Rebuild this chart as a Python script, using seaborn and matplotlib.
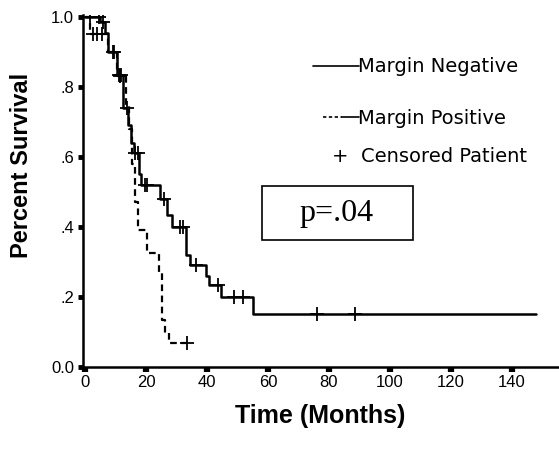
import numpy as np
import pandas as pd
import matplotlib
matplotlib.use("Agg")
import matplotlib.pyplot as plt
from matplotlib.lines import Line2D
from matplotlib.patches import Rectangle
import seaborn as sns

# Kaplan-Meier step points (months, survival fraction)
neg_times = [0, 5, 6.5, 7.5, 10.5, 12.3, 14, 15, 16, 17.8, 18.3, 24.5, 27, 28.5,
             33, 34.5, 39.5, 40.5, 44.5, 55, 148]
neg_surv = [1.0, 0.985, 0.955, 0.90, 0.835, 0.74, 0.69, 0.64, 0.61, 0.55, 0.52,
            0.48, 0.435, 0.40, 0.32, 0.29, 0.26, 0.235, 0.20, 0.15, 0.15]
neg_censored = [1.5, 4.5, 6, 9, 9.6, 11, 11.8, 13.6, 16.4, 17.2, 19.5, 20.3, 26,
                31, 32, 36.4, 43.6, 49, 51.8, 76, 88.5]

pos_times = [0, 1.5, 7.5, 10.5, 13.5, 14.5, 15.4, 16.5, 17.4, 20.3, 24.2, 25.3,
             26.3, 27.5, 33.5]
pos_surv = [1.0, 0.95, 0.90, 0.83, 0.75, 0.68, 0.58, 0.47, 0.39, 0.325, 0.27,
            0.134, 0.097, 0.068, 0.068]
pos_censored = [2.5, 4, 5.5, 11.5, 33.5]

x_ticks = [0, 20, 40, 60, 80, 100, 120, 140]
y_ticks = [0.0, 0.2, 0.4, 0.6, 0.8, 1.0]
y_tick_labels = ["0.0", ".2", ".4", ".6", ".8", "1.0"]

sns.set_theme(style="white")
plt.rcParams["font.family"] = ["Liberation Sans", "DejaVu Sans"]
plt.rcParams.update({"text.color": "black", "axes.labelcolor": "black",
                     "xtick.color": "black", "ytick.color": "black"})

W, H = 559, 455
fig = plt.figure(figsize=(W / 100, H / 100), dpi=100)
ax = fig.add_axes([83 / W, 1 - 367 / H, 1 - 83 / W, (367 - 15) / H])


def step_value(times, surv, t):
    idx = np.searchsorted(times, t, side="right") - 1
    return surv[idx]


curves = pd.concat([
    pd.DataFrame({"t": neg_times, "s": neg_surv, "group": "neg"}),
    pd.DataFrame({"t": pos_times, "s": pos_surv, "group": "pos"}),
])
sns.lineplot(data=curves[curves.group == "neg"], x="t", y="s", ax=ax,
             estimator=None, sort=False, drawstyle="steps-post",
             color="black", lw=1.8)
sns.lineplot(data=curves[curves.group == "pos"], x="t", y="s", ax=ax,
             estimator=None, sort=False, drawstyle="steps-post",
             color="black", lw=1.6, linestyle=(0, (3, 2)))

cens = pd.DataFrame({
    "t": neg_censored + pos_censored,
    "s": [step_value(neg_times, neg_surv, t) for t in neg_censored]
       + [step_value(pos_times, pos_surv, t) for t in pos_censored],
})
sns.scatterplot(data=cens, x="t", y="s", ax=ax, marker="+", s=90,
                color="black", linewidth=1.3, zorder=5)

ax.set_xlim(-0.7, 155.5)
ax.set_ylim(0, 1.005)
ax.set_xticks(x_ticks)
ax.set_xticklabels([str(v) for v in x_ticks])
ax.set_yticks(y_ticks)
ax.set_yticklabels(y_tick_labels)
ax.tick_params(axis="x", length=3.5, width=4.5, color="black", labelsize=12,
               labelcolor="black", pad=2, direction="out", bottom=True)
ax.tick_params(axis="y", length=3.5, width=3.5, color="black", labelsize=12,
               labelcolor="black", pad=3, direction="out", left=True)
for side in ("top", "right"):
    ax.spines[side].set_visible(False)
for side in ("left", "bottom"):
    ax.spines[side].set_linewidth(1.8)
    ax.spines[side].set_color("black")
ax.set_xlabel("")
ax.set_ylabel("")

fig.text(22 / W, 1 - 165 / H, "Percent Survival", rotation=90, ha="center",
         va="center", fontsize=17, fontweight="bold")
fig.text(320 / W, 1 - 416 / H, "Time (Months)", ha="center", va="center",
         fontsize=18, fontweight="bold")

# Key
key_font = dict(fontsize=14, family=["DejaVu Sans"])
fig.add_artist(Line2D([313 / W, 359 / W], [1 - 66 / H] * 2, color="black", lw=1.2))
fig.text(358 / W, 1 - 67 / H, "Margin Negative", ha="left", va="center", **key_font)
fig.add_artist(Line2D([323 / W, 342 / W], [1 - 117 / H] * 2, color="black", lw=1.2,
                      linestyle=(0, (2, 1.5))))
fig.add_artist(Line2D([342 / W, 359 / W], [1 - 117 / H] * 2, color="black", lw=1.2))
fig.text(358 / W, 1 - 118 / H, "Margin Positive", ha="left", va="center", **key_font)
fig.text(340 / W, 1 - 156 / H, "+", ha="center", va="center", **key_font)
fig.text(361 / W, 1 - 156 / H, "Censored Patient", ha="left", va="center", **key_font)

fig.add_artist(Rectangle((262 / W, 1 - 240 / H), 151 / W, 54 / H, fill=False,
                         edgecolor="black", lw=1.2, transform=fig.transFigure))
fig.text(337 / W, 1 - 214 / H, "p=.04", ha="center", va="center", fontsize=23,
         family=["Liberation Serif", "DejaVu Serif"])

fig.savefig("out.png", dpi=100)
